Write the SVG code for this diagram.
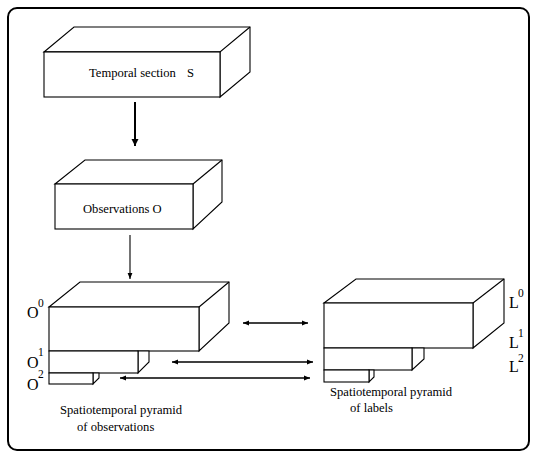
<svg xmlns="http://www.w3.org/2000/svg" width="534" height="452" viewBox="0 0 534 452">
<style>
  .box{fill:#fff;stroke:#000;stroke-width:1.1;stroke-linejoin:miter}
  .ln{fill:none;stroke:#000;stroke-width:1.1}
  .arr{fill:none;stroke:#000;stroke-width:1.5}
  text{font-family:"Liberation Serif","Times New Roman",serif;fill:#000}
  .t{font-size:12.6px}
  .lab{font-size:16px}
  .sup{font-size:11.5px}
</style>
<defs>
  <marker id="ah" viewBox="0 0 10 10" refX="10" refY="5" markerWidth="6" markerHeight="6" markerUnits="userSpaceOnUse" orient="auto-start-reverse">
    <path d="M0,1 L10,5 L0,9 Z" fill="#000"/>
  </marker>
  <marker id="ah2" viewBox="0 0 10 10" refX="10" refY="5" markerWidth="7" markerHeight="8" markerUnits="userSpaceOnUse" orient="auto">
    <path d="M0,0 L10,5 L0,10 Z" fill="#000"/>
  </marker>
</defs>

<!-- outer frame -->
<rect x="8" y="8" width="521" height="442" rx="9" ry="9" fill="#fff" stroke="#000" stroke-width="2"/>

<!-- temporal section -->
<g id="temporal-section">
  <path class="box" d="M44,52 L74,27 L250,27 L250,72 L220,97 L220,52 Z"/>
  <path class="ln" d="M44,52 L220,52 L250,27"/>
  <rect class="box" x="44" y="52" width="176" height="45"/>
  <text class="t" x="89" y="77">Temporal section</text>
  <text class="t" x="187" y="77">S</text>
</g>

<!-- observations -->
<g id="observations">
  <path class="box" d="M55,184 L85,160 L222,160 L222,202 L193,229 L193,184 Z"/>
  <path class="ln" d="M193,184 L222,160"/>
  <rect class="box" x="55" y="184" width="138" height="45"/>
  <text class="t" x="83" y="213">Observations O</text>
</g>

<!-- pyramid of observations -->
<g id="pyramid-observations">
  <path class="box" d="M49,307 L80,282 L229,282 L229,323 L199,351 L199,307 Z"/>
  <path class="ln" d="M199,307 L229,282"/>
  <rect class="box" x="49" y="307" width="150" height="44"/>
  <path class="box" d="M138,351 L149,351 L149,362 L138,373 Z"/>
  <rect class="box" x="49" y="351" width="89" height="22"/>
  <path class="box" d="M93,373 L99,373 L99,378 L93,384 Z"/>
  <rect class="box" x="49" y="373" width="44" height="11"/>
  <text class="lab" x="27" y="318">O</text><text class="sup" x="38" y="307">0</text>
  <text class="lab" x="27" y="368">O</text><text class="sup" x="38" y="356">1</text>
  <text class="lab" x="27" y="390">O</text><text class="sup" x="38" y="378">2</text>
  <text class="t" x="60" y="414">Spatiotemporal pyramid</text>
  <text class="t" x="77" y="431">of observations</text>
</g>

<!-- pyramid of labels -->
<g id="pyramid-labels">
  <path class="box" d="M324,303 L356,279 L504,279 L504,323 L473,348 L473,303 Z"/>
  <path class="ln" d="M473,303 L504,279"/>
  <rect class="box" x="324" y="303" width="149" height="45"/>
  <path class="box" d="M412,348 L424,348 L424,359 L412,370 Z"/>
  <rect class="box" x="324" y="348" width="88" height="22"/>
  <path class="box" d="M369,370 L374,370 L374,377 L369,382 Z"/>
  <rect class="box" x="324" y="370" width="45" height="12"/>
  <text class="lab" x="509" y="308">L</text><text class="sup" x="518" y="297">0</text>
  <text class="lab" x="509" y="348">L</text><text class="sup" x="518" y="337">1</text>
  <text class="lab" x="509" y="372">L</text><text class="sup" x="518" y="362">2</text>
  <text class="t" x="330" y="396">Spatiotemporal pyramid</text>
  <text class="t" x="350" y="412">of labels</text>
</g>

<!-- connectors -->
<g id="connectors">
  <line x1="135" y1="102" x2="135" y2="146" stroke="#000" stroke-width="2" marker-end="url(#ah2)"/>
  <line x1="130" y1="235" x2="130" y2="279" stroke="#000" stroke-width="1.1" marker-end="url(#ah)"/>
  <line class="arr" x1="243" y1="323" x2="308" y2="323" marker-start="url(#ah)" marker-end="url(#ah)"/>
  <line class="arr" x1="172" y1="362" x2="313" y2="362" marker-start="url(#ah)" marker-end="url(#ah)"/>
  <line class="arr" x1="120" y1="378" x2="310" y2="378" marker-start="url(#ah)" marker-end="url(#ah)"/>
</g>
</svg>
